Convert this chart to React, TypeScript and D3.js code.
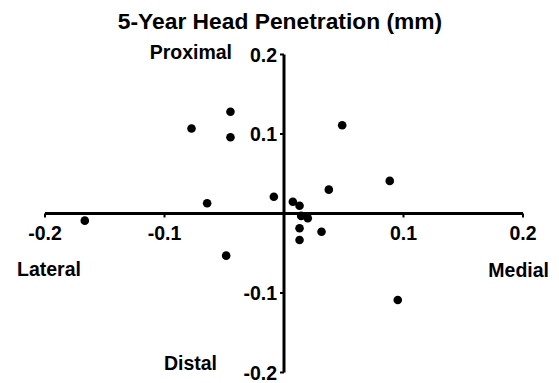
import React from "react";
import * as d3 from "d3";

const xValues = [-0.1667, -0.0774, -0.0448, -0.0448, -0.0643, -0.0484, -0.0085, 0.0074, 0.013, 0.0144, 0.0199, 0.013, 0.013, 0.0314, 0.0375, 0.0487, 0.0885, 0.0952];
const yValues = [-0.009, 0.107, 0.128, 0.096, 0.0128, -0.053, 0.021, 0.0148, 0.0098, -0.003, -0.006, -0.0186, -0.0333, -0.0229, 0.03, 0.111, 0.041, -0.1088];
const xTicks = [-0.2, -0.1, 0.1, 0.2];
const yTicks = [0.2, 0.1, -0.1, -0.2];
const title = "5-Year Head Penetration (mm)";
const font = "'Liberation Sans', Arial, sans-serif";

export default function App() {
  const W = 559, H = 383;
  const x = d3.scaleLinear().domain([-0.2, 0.2]).range([45, 523]);
  const y = d3.scaleLinear().domain([-0.2, 0.2]).range([372.5, 54.5]);
  const fmt = (v: number) => d3.format(".1f")(v).replace("\u2212", "-");
  const x0 = x(0), y0 = y(0);
  const fs = 19.5;
  return (
    <svg width={W} height={H} style={{ position: "absolute", left: 0, top: 0, background: "#fff" }} fontFamily={font} fontWeight="bold">
      <text x={280} y={29} textAnchor="middle" fontSize={22.8}>{title}</text>
      {/* x axis */}
      <line x1={x(-0.2)} x2={x(0.2)} y1={y0} y2={y0} stroke="#000" strokeWidth={3} />
      {xTicks.map((t) => (
        <g key={"xt" + t}>
          <line x1={x(t)} x2={x(t)} y1={y0} y2={y0 + 4} stroke="#000" strokeWidth={2} />
          <text x={x(t)} y={240} textAnchor="middle" fontSize={fs}>{fmt(t)}</text>
        </g>
      ))}
      {/* y axis */}
      <line x1={x0} x2={x0} y1={y(0.2)} y2={y(-0.2)} stroke="#000" strokeWidth={3} />
      {yTicks.map((t) => (
        <g key={"yt" + t}>
          <line x1={x0} x2={x0 - 4} y1={y(t)} y2={y(t)} stroke="#000" strokeWidth={2} />
          <text x={x0 - 7} y={y(t)} dy="0.36em" textAnchor="end" fontSize={fs}>{fmt(t)}</text>
        </g>
      ))}
      <text x={232} y={59} textAnchor="end" fontSize={fs}>Proximal</text>
      <text x={217} y={370} textAnchor="end" fontSize={fs}>Distal</text>
      <text x={17} y={276} textAnchor="start" fontSize={fs}>Lateral</text>
      <text x={549} y={277} textAnchor="end" fontSize={fs}>Medial</text>
      {xValues.map((v, i) => (
        <circle key={i} cx={x(v)} cy={y(yValues[i])} r={4.3} fill="#000" />
      ))}
    </svg>
  );
}
